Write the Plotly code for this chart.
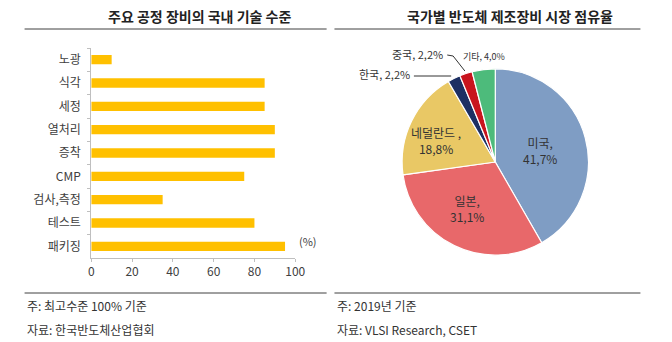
import plotly.graph_objects as go

W, H = 672, 342

# Bar chart data
bar_categories = ["노광", "식각", "세정", "열처리", "증착", "CMP", "검사,측정", "테스트", "패키징"]
bar_values = [10, 85, 85, 90, 90, 75, 35, 80, 95]
x_ticks = [0, 20, 40, 60, 80, 100]

# Pie data
pie_labels = ["미국", "일본", "네덜란드", "한국", "중국", "기타"]
pie_values = [41.7, 31.1, 18.8, 2.2, 2.2, 4.0]
pie_colors = ["#7F9DC4", "#E8686A", "#E9C865", "#1C2F63", "#C8141E", "#4DBB7B"]

FONT = "Noto Sans CJK KR"

def px(x):
    return x / W

def py(y):
    return 1 - y / H

fig = go.Figure()

fig.add_trace(go.Bar(
    x=bar_values, y=bar_categories, orientation="h",
    marker=dict(color="#FFC000", line=dict(width=0)),
    xaxis="x", yaxis="y", showlegend=False, hoverinfo="x+y",
))

fig.add_trace(go.Pie(
    values=pie_values, labels=pie_labels, sort=False, direction="clockwise",
    rotation=0, marker=dict(colors=pie_colors, line=dict(color="white", width=1.2)),
    textinfo="none", showlegend=False,
    domain=dict(x=[px(502 - 95), px(502 + 95)], y=[py(257), py(67)]),
))

fig.update_layout(
    width=W, height=H, margin=dict(l=0, r=0, t=0, b=0),
    paper_bgcolor="white", plot_bgcolor="white",
    font=dict(family=FONT, size=12, color="#404040"),
    bargap=0.6,
    xaxis=dict(
        domain=[px(90), px(298)], range=[0, 100], tickvals=x_ticks,
        showgrid=False, zeroline=False, showline=True, linecolor="#BFBFBF",
        ticks="outside", ticklen=3, tickcolor="#BFBFBF",
        tickfont=dict(size=12, color="#404040"), anchor="y",
    ),
    yaxis=dict(
        domain=[py(258), py(48)], autorange="reversed",
        categoryorder="array", categoryarray=bar_categories,
        showgrid=False, zeroline=False, showline=True, linecolor="#BFBFBF",
        ticks="outside", ticklen=3, tickcolor="#BFBFBF", tickson="boundaries",
        tickfont=dict(size=12, color="#404040"), anchor="x", ticklabelstandoff=7,
    ),
)

anns = []
shapes = []

def text(t, x, y, size=12, color="#333333", xanchor="center"):
    anns.append(dict(text=t, x=px(x), y=py(y), xref="paper", yref="paper",
                     xanchor=xanchor, yanchor="middle", showarrow=False,
                     align="center", font=dict(size=size, color=color)))

def seg(x0, y0, x1, y1, color="#404040", width=1):
    shapes.append(dict(type="line", xref="paper", yref="paper", layer="above",
                       x0=px(x0), y0=py(y0), x1=px(x1), y1=py(y1),
                       line=dict(color=color, width=width)))

# Titles
text("<b>주요 공정 장비의 국내 기술 수준</b>", 200, 16, 14, "#222222")
text("<b>국가별 반도체 제조장비 시장 점유율</b>", 517, 16, 14, "#222222")
seg(22, 29, 330, 29)
seg(338, 29, 650, 29)
# Footer
seg(22, 293, 330, 293)
seg(338, 293, 650, 293)
text("주: 최고수준 100% 기준", 22, 305, xanchor="left")
text("자료: 한국반도체산업협회", 22, 329, xanchor="left")
text("주: 2019년 기준", 339, 305, xanchor="left")
text("자료: VLSI Research, CSET", 339, 329, xanchor="left")
# (%) unit
text("(%)", 300, 241, 11, "#404040", xanchor="left")

def fmt(v):
    return f"{v:.1f}%".replace(".", ",")

# Pie labels
inside_pos = {0: (548, 150), 1: (473, 208), 2: (442, 140)}
for i, (x, y) in inside_pos.items():
    sep = " ," if pie_labels[i] == "네덜란드" else ","
    text(f"{pie_labels[i]}{sep}<br>{fmt(pie_values[i])}", x, y, 12, "#333333")
outside = {3: (389, 74, 11), 4: (423, 54, 11), 5: (490, 56, 9)}
for i, (x, y, s) in outside.items():
    text(f"{pie_labels[i]}, {fmt(pie_values[i])}", x, y, s, "#333333")
# leader lines
seg(419, 76, 457, 76, "#333333")
seg(453, 55, 459, 56, "#333333")
seg(459, 56, 471, 71, "#333333")

fig.update_layout(annotations=anns, shapes=shapes)
fig.write_html("out.html")
